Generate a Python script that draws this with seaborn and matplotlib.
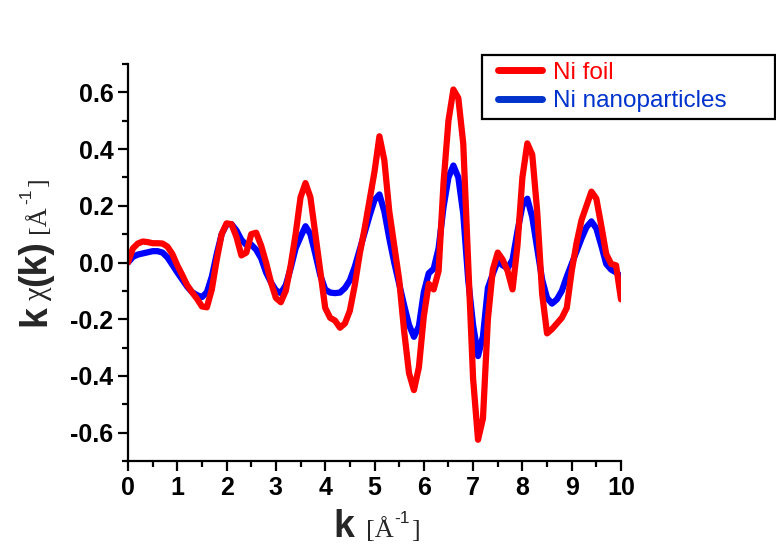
import numpy as np
import pandas as pd
import matplotlib
matplotlib.use("Agg")
import matplotlib.pyplot as plt
from matplotlib.lines import Line2D
from matplotlib.legend_handler import HandlerLine2D
from matplotlib.ticker import MultipleLocator
import seaborn as sns

# =====================================
# Data (k step 0.1)
# =====================================

k_values = np.round(np.arange(101) * 0.1, 1)

ni_foil = [
    0.0, 0.05, 0.067, 0.074, 0.072, 0.068, 0.068, 0.067, 0.056, 0.03,
    -0.01, -0.044, -0.08, -0.105, -0.128, -0.155, -0.158, -0.095, 0.01, 0.1,
    0.138, 0.135, 0.09, 0.025, 0.035, 0.1, 0.105, 0.06, 0.0, -0.07,
    -0.125, -0.14, -0.1, -0.01, 0.1, 0.23, 0.28, 0.23, 0.1, -0.03,
    -0.16, -0.195, -0.205, -0.23, -0.215, -0.17, -0.08, 0.03, 0.12, 0.22,
    0.32, 0.445, 0.36, 0.18, 0.06, -0.06, -0.24, -0.39, -0.45, -0.37,
    -0.19, -0.075, -0.095, -0.03, 0.28, 0.5, 0.61, 0.58, 0.42, 0.0,
    -0.41, -0.625, -0.55, -0.2, -0.025, 0.035, 0.01, -0.03, -0.095, 0.06,
    0.3, 0.42, 0.38, 0.18, -0.11, -0.25, -0.235, -0.215, -0.195, -0.16,
    -0.03, 0.07, 0.15, 0.2, 0.25, 0.225, 0.13, 0.03, -0.005, -0.01,
    -0.13,
]

ni_nano = [
    0.0, 0.02, 0.028, 0.032, 0.036, 0.04, 0.04, 0.035, 0.018, -0.008,
    -0.035, -0.06, -0.085, -0.105, -0.115, -0.122, -0.105, -0.05, 0.03, 0.1,
    0.135, 0.135, 0.113, 0.08, 0.062, 0.063, 0.045, 0.015, -0.035, -0.07,
    -0.098, -0.108, -0.08, -0.02, 0.05, 0.09, 0.128, 0.1, 0.03, -0.045,
    -0.095, -0.106, -0.108, -0.106, -0.09, -0.063, -0.015, 0.045, 0.105, 0.165,
    0.22, 0.24, 0.18, 0.085, 0.0, -0.075, -0.15, -0.22, -0.262, -0.225,
    -0.105, -0.038, -0.022, 0.05, 0.195, 0.3, 0.342, 0.3, 0.172, -0.06,
    -0.22, -0.33, -0.26, -0.09, -0.04, 0.005, -0.01, -0.02, 0.01, 0.11,
    0.2, 0.225, 0.16, 0.05, -0.06, -0.125, -0.145, -0.13, -0.1, -0.05,
    -0.005, 0.04, 0.085, 0.125, 0.145, 0.12, 0.06, -0.005, -0.025, -0.035,
    -0.05,
]

series_names = ["Ni foil", "Ni nanoparticles"]
line_colors = {"Ni foil": "#FF0000", "Ni nanoparticles": "#0000FF"}
legend_colors = {"Ni foil": "#FF0000", "Ni nanoparticles": "#0033CC"}

df = pd.concat([
    pd.DataFrame({"k": k_values, "chi": ni_foil, "sample": "Ni foil"}),
    pd.DataFrame({"k": k_values, "chi": ni_nano, "sample": "Ni nanoparticles"}),
])

# =====================================
# Style
# =====================================

sns.set_style("ticks")
plt.rcParams["font.family"] = ["Liberation Sans", "DejaVu Sans"]
plt.rcParams["axes.unicode_minus"] = False

W, H = 776, 556
fig = plt.figure(figsize=(W / 100, H / 100), dpi=100)
ax = fig.add_axes([128 / W, 1 - 461 / H, (621 - 128) / W, (461 - 64) / H])

# =====================================
# Lines
# =====================================

sns.lineplot(
    data=df,
    x="k",
    y="chi",
    hue="sample",
    hue_order=["Ni nanoparticles", "Ni foil"],
    palette=line_colors,
    linewidth=4.5,
    estimator=None,
    sort=False,
    legend=False,
    solid_joinstyle="round",
    solid_capstyle="round",
    ax=ax,
)

ax.set_xlim(0, 10)
ax.set_ylim(-0.7, 0.7)
ax.xaxis.set_major_locator(MultipleLocator(1))
ax.xaxis.set_minor_locator(MultipleLocator(0.5))
ax.yaxis.set_major_locator(MultipleLocator(0.2))
ax.yaxis.set_minor_locator(MultipleLocator(0.1))
ax.yaxis.set_major_formatter(plt.FuncFormatter(lambda v, p: f"{v:.1f}"))

for side in ["top", "right"]:
    ax.spines[side].set_visible(False)
for side in ["left", "bottom"]:
    ax.spines[side].set_linewidth(1.6)
    ax.spines[side].set_color("black")

ax.tick_params(which="major", direction="out", length=7, width=1.6,
               labelsize=18, colors="black")
ax.tick_params(which="minor", direction="out", length=4, width=1.6,
               colors="black")
for lab in ax.get_xticklabels() + ax.get_yticklabels():
    lab.set_fontweight("bold")

ax.set_xlabel("")
ax.set_ylabel("")

# =====================================
# Axis labels (mixed fonts, placed piece by piece)
# =====================================

renderer = fig.canvas.get_renderer()

bold_big = dict(fontsize=27, fontweight="bold", family="Liberation Sans")
serif = dict(fontsize=19, family="Liberation Serif")
serif_chi = dict(fontsize=22, family="Liberation Serif")
sup = dict(fontsize=12.5, family="Liberation Sans")


def place_chain(x_px, y_px, pieces, rotation=0):
    # x_px, y_px: start of baseline in image pixels (y from top)
    pos = 0.0
    for s, kw, rise, gap in pieces:
        pos += gap
        if rotation == 0:
            dx, dy = x_px + pos, (H - y_px) + rise
        else:
            dx, dy = x_px - rise, (H - y_px) + pos
        t = fig.text(dx / W, dy / H, s, rotation=rotation,
                     rotation_mode="anchor", ha="left", va="baseline", **kw)
        bb = t.get_window_extent(renderer)
        pos += bb.width if rotation == 0 else bb.height


label_pieces = [
    ("k", bold_big, 0, 0),
    ("[Å", serif, 0, 12),
    ("-1", sup, 14, 1),
    ("]", serif, 0, 1),
]
place_chain(333, 537, label_pieces, rotation=0)

ylabel_pieces = [
    ("k", bold_big, 0, 0),
    ("χ", serif_chi, 0, 5),
    ("(k)", bold_big, 0, 1),
    ("[Å", serif, 0, 7),
    ("-1", sup, 14, 1),
    ("]", serif, 0, 1),
]
place_chain(45, 326, ylabel_pieces, rotation=90)

# =====================================
# Legend
# =====================================

handles = [Line2D([], [], color=legend_colors[n], linewidth=5) for n in series_names]
leg = ax.legend(
    handles,
    series_names,
    loc="upper left",
    bbox_to_anchor=(482 / W, 1 - 55 / H, (775 - 482) / W, 0.0),
    bbox_transform=fig.transFigure,
    mode="expand",
    fontsize=17.5,
    frameon=True,
    fancybox=False,
    handlelength=2.2,
    handletextpad=0.45,
    labelspacing=0.27,
    borderpad=0.28,
    borderaxespad=0,
    handler_map={Line2D: HandlerLine2D(xpad=0.38)},
)
leg.get_frame().set_edgecolor("black")
leg.get_frame().set_linewidth(1.6)
leg.get_frame().set_alpha(1)
for txt, n in zip(leg.get_texts(), series_names):
    txt.set_color(legend_colors[n])

fig.savefig("out.png", dpi=100)
